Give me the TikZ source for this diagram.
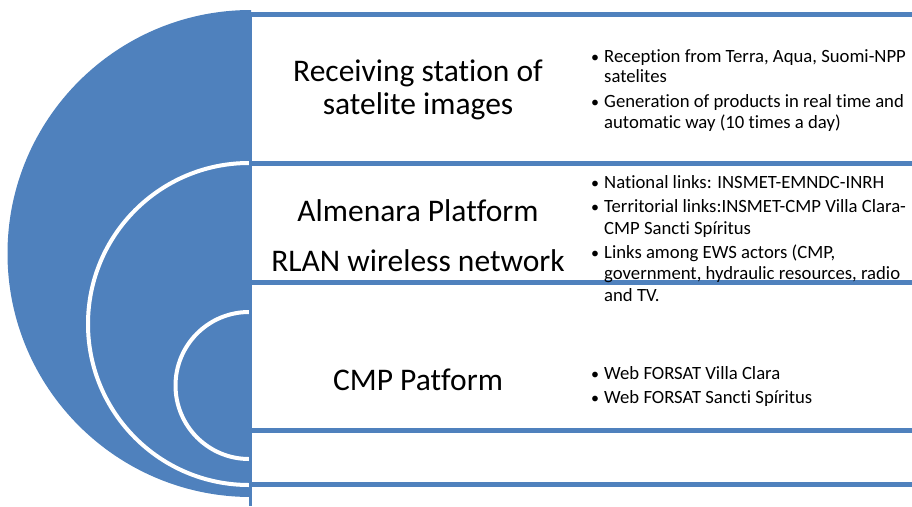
\documentclass[tikz,border=0pt]{standalone}
\usepackage{fontspec}
\setmainfont[Ligatures=NoCommon]{Carlito}
\definecolor{obl}{HTML}{4F81BD}
\begin{document}
\begin{tikzpicture}[x=1pt,y=-1pt,
  big/.style={anchor=base,font=\fontsize{31.5}{36}\selectfont,inner sep=0pt},
  small/.style={anchor=base west,font=\fontsize{18.7}{22}\selectfont,inner sep=0pt},
  bul/.style={anchor=base west,font=\fontsize{16}{20}\selectfont,inner sep=0pt},
  hline/.style={draw=obl,line width=5pt},
  warc/.style={draw=white,line width=4pt}]
\useasboundingbox (0,0) rectangle (912,506);
% outer half disc
\fill[obl] (251,10) arc[start angle=270,end angle=90,radius=243.5] -- cycle;
\draw[warc] (249,163) arc[start angle=270,end angle=90,radius=161];
\draw[warc] (249,312) arc[start angle=270,end angle=90,radius=73.5];
% frame lines
\coordinate (v1) at (250.5,12);
\coordinate (v2) at (250.5,506);
\draw[obl,line width=3pt] (v1) -- (v2);
\foreach \yy/\nm in {14/a,163/b,282/c,430/d,484/e}{
  \coordinate (l\nm) at (249,\yy);
  \coordinate (r\nm) at (912,\yy);
  \draw[hline] (l\nm) -- (r\nm);
}
% main labels
\node[big] (t1a) at (418,81) {Receiving station of};
\node[big] (t1b) at (418,114) {satelite images};
\node[big] (t2a) at (418,221) {Almenara Platform};
\node[big] (t2b) at (418,271) {RLAN wireless network};
\node[big] (t3) at (418,390) {CMP Patform};
% bullets block 1
\node[bul] (b11) at (591,62) {•};
\node[small] (s11a) at (604,62) {Reception from Terra, Aqua, Suomi-NPP};
\node[small] (s11b) at (604,82.5) {satelites};
\node[bul] (b12) at (591,107) {•};
\node[small] (s12a) at (604,107) {Generation of products in real time and};
\node[small] (s12b) at (604,128) {automatic way (10 times a day)};
% block 2
\node[bul] (b21) at (591,188) {•};
\node[small] (s21a) at (604,188) {National links: INSMET-EMNDC-INRH};
\node[bul] (b22) at (591,212) {•};
\node[small] (s22a) at (604,212) {Territorial links:INSMET-CMP Villa Clara-};
\node[small] (s22b) at (604,234) {CMP Sancti Spíritus};
\node[bul] (b23) at (591,258) {•};
\node[small] (s23a) at (604,258) {Links among EWS actors (CMP,};
\node[small] (s23b) at (604,279.5) {government, hydraulic resources, radio};
\node[small] (s23c) at (604,301) {and TV.};
% block 3
\node[bul] (b31) at (591,379.5) {•};
\node[small] (s31a) at (604,379.5) {Web FORSAT Villa Clara};
\node[bul] (b32) at (591,403.5) {•};
\node[small] (s32a) at (604,403.5) {Web FORSAT Sancti Spíritus};
\end{tikzpicture}
\end{document}
